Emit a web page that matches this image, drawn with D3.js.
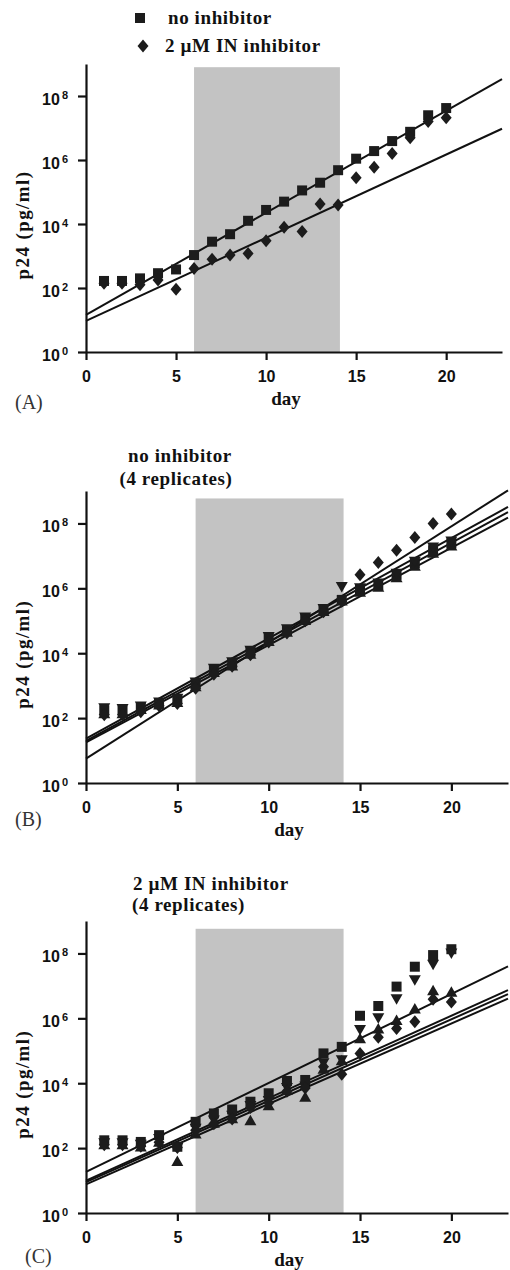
<!DOCTYPE html>
<html>
<head>
<meta charset="utf-8">
<script src="https://cdn.jsdelivr.net/npm/d3@7"></script>
<style>
    body { margin: 0; background: #fff; }
    svg { display: block; font-family: 'Liberation Serif', 'Times New Roman', serif; }
    .axis path, .axis line { stroke: #111; stroke-width: 2.2; }
    .axis .tick text { font-size: 16px; font-weight: bold; fill: #111; }
    .axis-title { font-size: 19px; font-weight: bold; fill: #111; }
    .panel-title { font-size: 19px; font-weight: bold; fill: #111; letter-spacing: 0.6px; }
    .panel-letter { font-size: 20px; fill: #333; }
    .fit-line { stroke: #111; stroke-width: 2; fill: none; }
    .marker { fill: #1c1c1c; }
    .shade { fill: #c3c3c3; }
</style>
</head>
<body>
<div id="chart"></div>
<script>
// ---- data (p24 in pg/ml) ----
const days = [1, 2, 3, 4, 5, 6, 7, 8, 9, 10, 11, 12, 13, 14, 15, 16, 17, 18, 19, 20];
const xTickValues = [0, 5, 10, 15, 20];
const yTickPowers = [0, 2, 4, 6, 8];
const treatmentWindow = [6, 14.1];

// panel A
const noInhibitorA = [166, 166, 200, 290, 380, 1070, 2800, 4800, 1.26e4, 2.75e4, 5.0e4, 1.12e5, 1.95e5, 4.8e5, 1.1e6, 1.9e6, 3.9e6, 7.6e6, 2.5e7, 4.2e7];
const inhibitorA = [140, 140, 126, 178, 91, 410, 790, 1070, 1200, 3000, 7900, 5800, 4.2e4, 3.9e4, 2.8e5, 5.9e5, 1.6e6, 5.0e6, 1.6e7, 2.1e7];
// fits: log10 intercept at day 0, log10 slope per day
const fitInterceptA = [1.16, 0.97];
const fitSlopeA = [0.319, 0.26];

// panel B: no inhibitor, 4 replicates
const repSquareB = [174, 174, 214, 282, 372, 1170, 3000, 4900, 1.1e4, 2.9e4, 5.1e4, 1.17e5, 2.1e5, 4.4e5, 8.9e5, 1.26e6, 2.6e6, 5.9e6, 1.5e7, 2.45e7];
const repUpB = [141, 141, 190, 263, 316, 955, 2630, 4170, 9550, 2.4e4, 4.6e4, 1.05e5, 2.0e5, 4.2e5, 7.9e5, 1.12e6, 2.2e6, 5.0e6, 1.26e7, 2.1e7];
const repDownB = [200, 190, 229, 302, 398, 1260, 3300, 5250, 1.2e4, 3.16e4, 5.5e4, 1.26e5, 2.3e5, 1.1e6, 1.0e6, 1.4e6, 2.8e6, 6.6e6, 1.8e7, 2.8e7];
const repDiamondB = [126, 126, 158, 240, 282, 830, 2240, 4000, 8900, 2.2e4, 4.2e4, 1.0e5, 1.9e5, 4.0e5, 2.6e6, 6.2e6, 1.5e7, 3.7e7, 1.0e8, 1.95e8];
const fitInterceptB = [0.75, 1.37, 1.3, 1.25];
const fitSlopeB = [0.358, 0.309, 0.305, 0.30];

// panel C: 2 uM IN inhibitor, 4 replicates
const repSquareC = [174, 174, 155, 251, 110, 646, 1170, 1550, 2690, 4900, 1.17e4, 1.26e4, 8.3e4, 1.32e5, 1.2e6, 2.4e6, 9.5e6, 3.9e7, 8.9e7, 1.35e8];
const repDownC = [141, 141, 126, 191, 100, 398, 708, 1000, 2000, 2820, 7080, 7940, 4.1e4, 5.1e4, 4.4e5, 1.0e6, 3.9e6, 1.5e7, 4.5e7, 1.0e8];
const repUpC = [132, 132, 112, 158, 40, 282, 603, 832, 724, 2090, 6300, 3800, 2.8e4, 5.1e4, 2.45e5, 4.9e5, 8.9e5, 2.0e6, 7.4e6, 6.6e6];
const repDiamondC = [126, 126, 115, 151, 105, 355, 562, 794, 1780, 2510, 5620, 7080, 3.2e4, 1.9e4, 8.3e4, 2.6e5, 4.9e5, 7.9e5, 3.9e6, 3.2e6];
const fitInterceptC = [1.27, 1.0, 0.95, 0.88];
const fitSlopeC = [0.274, 0.254, 0.251, 0.248];

// ---- marker shapes ----
const markerShapes = {
    square: {draw(ctx) { ctx.rect(-5, -5, 10, 10); }},
    diamond: {draw(ctx) { ctx.moveTo(0, -6.5); ctx.lineTo(5.5, 0); ctx.lineTo(0, 6.5); ctx.lineTo(-5.5, 0); ctx.closePath(); }},
    up: {draw(ctx) { ctx.moveTo(0, -5.5); ctx.lineTo(6, 5); ctx.lineTo(-6, 5); ctx.closePath(); }},
    down: {draw(ctx) { ctx.moveTo(0, 5.5); ctx.lineTo(6, -5); ctx.lineTo(-6, -5); ctx.closePath(); }}
};

class LogPanel {
    constructor(_config, _series, _fits) {
        this.config = {
            parent: _config.parent,
            xRange: _config.xRange,
            yRange: _config.yRange,
            shadeTop: _config.shadeTop,
            xTitleY: _config.xTitleY || 53,
            letter: _config.letter,
            letterX: _config.letterX,
            letterY: _config.letterY
        };
        this.series = _series;
        this.fits = _fits;
        this.initVis();
    }

    initVis() {
        let vis = this;
        vis.g = vis.config.parent.append('g');

        vis.x = d3.scaleLinear().domain([0, 23.1]).range(vis.config.xRange);
        vis.y = d3.scaleLog().domain([1, 1e9]).range(vis.config.yRange);

        // grey treatment window
        vis.g.append('rect')
            .attr('class', 'shade')
            .attr('x', vis.x(treatmentWindow[0]))
            .attr('width', vis.x(treatmentWindow[1]) - vis.x(treatmentWindow[0]))
            .attr('y', vis.y(Math.pow(10, vis.config.shadeTop)))
            .attr('height', vis.y(1) - vis.y(Math.pow(10, vis.config.shadeTop)));

        vis.renderVis();
    }

    renderVis() {
        let vis = this;
        const x0 = vis.x.domain()[0], x1 = vis.x.domain()[1];

        // regression lines
        vis.g.selectAll('.fit-line')
            .data(vis.fits)
            .join('line')
            .attr('class', 'fit-line')
            .attr('x1', vis.x(x0))
            .attr('x2', vis.x(x1))
            .attr('y1', d => vis.y(Math.pow(10, d.b + d.m * x0)))
            .attr('y2', d => vis.y(Math.pow(10, d.b + d.m * x1)));

        // points
        vis.series.forEach(s => {
            const sym = d3.symbol().type(markerShapes[s.shape]);
            vis.g.append('g').selectAll('path')
                .data(s.values.map((v, i) => ({day: days[i], v: v})))
                .join('path')
                .attr('class', 'marker')
                .attr('d', sym)
                .attr('transform', d => `translate(${vis.x(d.day)},${vis.y(d.v)})`);
        });

        // axes
        const xAxis = d3.axisBottom(vis.x).tickValues(xTickValues).tickSize(8).tickSizeOuter(0);
        const xg = vis.g.append('g')
            .attr('class', 'axis')
            .attr('transform', `translate(0,${vis.y(1)})`)
            .call(xAxis);
        xg.selectAll('.tick text').attr('y', 30).attr('dy', null);

        const yAxis = d3.axisLeft(vis.y)
            .tickValues(yTickPowers.map(p => Math.pow(10, p)))
            .tickSize(8).tickSizeOuter(0).tickFormat('');
        const yg = vis.g.append('g')
            .attr('class', 'axis')
            .attr('transform', `translate(${vis.x(0)},0)`)
            .call(yAxis);
        yg.selectAll('.tick text').each(function(d) {
            const t = d3.select(this)
                .attr('x', -18).attr('y', 8).attr('dy', null)
                .attr('text-anchor', 'end');
            t.append('tspan').text('10');
            t.append('tspan').attr('dy', -6).attr('dx', 2).style('font-size', '11px').text(Math.round(Math.log10(d)));
        });

        // axis titles
        vis.g.append('text')
            .attr('class', 'axis-title')
            .attr('text-anchor', 'middle')
            .attr('x', (vis.x(0) + vis.x(x1)) / 2 - 8)
            .attr('y', vis.y(1) + vis.config.xTitleY)
            .text('day');
        vis.g.append('text')
            .attr('class', 'axis-title')
            .attr('text-anchor', 'middle')
            .attr('transform', `translate(29,${vis.y(1e4) + 1}) rotate(-90)`)
            .style('letter-spacing', '1.4px')
            .text('p24 (pg/ml)');

        vis.g.append('text')
            .attr('class', 'panel-letter')
            .attr('x', vis.config.letterX)
            .attr('y', vis.config.letterY)
            .text(vis.config.letter);
    }
}

const svg = d3.select('#chart').append('svg')
    .attr('width', 510)
    .attr('height', 1270);

const toFits = (b, m) => b.map((v, i) => ({b: v, m: m[i]}));

new LogPanel(
    {parent: svg, xRange: [86, 502], yRange: [352, 64], shadeTop: 8.9, letter: '(A)', letterX: 15, letterY: 409},
    [{shape: 'square', values: noInhibitorA}, {shape: 'diamond', values: inhibitorA}],
    toFits(fitInterceptA, fitSlopeA)
);
new LogPanel(
    {parent: svg, xRange: [86, 508], yRange: [783, 491], shadeTop: 8.77, letter: '(B)', letterX: 15, letterY: 826},
    [{shape: 'square', values: repSquareB}, {shape: 'up', values: repUpB},
     {shape: 'down', values: repDownB}, {shape: 'diamond', values: repDiamondB}],
    toFits(fitInterceptB, fitSlopeB)
);
new LogPanel(
    {parent: svg, xRange: [86, 508], yRange: [1213, 921], shadeTop: 8.76, letter: '(C)', letterX: 25, letterY: 1263},
    [{shape: 'square', values: repSquareC}, {shape: 'down', values: repDownC},
     {shape: 'up', values: repUpC}, {shape: 'diamond', values: repDiamondC}],
    toFits(fitInterceptC, fitSlopeC)
);

// legend (panel A)
const legend = svg.append('g').attr('class', 'legend');
legend.append('path').attr('class', 'marker')
    .attr('d', d3.symbol().type(markerShapes.square))
    .attr('transform', 'translate(140,18)');
legend.append('path').attr('class', 'marker')
    .attr('d', d3.symbol().type(markerShapes.diamond))
    .attr('transform', 'translate(143,46)');
legend.append('text').attr('class', 'panel-title').attr('x', 168).attr('y', 24).text('no inhibitor');
legend.append('text').attr('class', 'panel-title').attr('x', 165).attr('y', 52).text('2 µM IN inhibitor');

// panel titles
svg.append('text').attr('class', 'panel-title').attr('text-anchor', 'middle')
    .attr('x', 180).attr('y', 462).text('no inhibitor');
svg.append('text').attr('class', 'panel-title').attr('text-anchor', 'middle')
    .attr('x', 176).attr('y', 485).text('(4 replicates)');
svg.append('text').attr('class', 'panel-title')
    .attr('x', 133).attr('y', 890).text('2 µM IN inhibitor');
svg.append('text').attr('class', 'panel-title')
    .attr('x', 132).attr('y', 911).text('(4 replicates)');
</script>
</body>
</html>
